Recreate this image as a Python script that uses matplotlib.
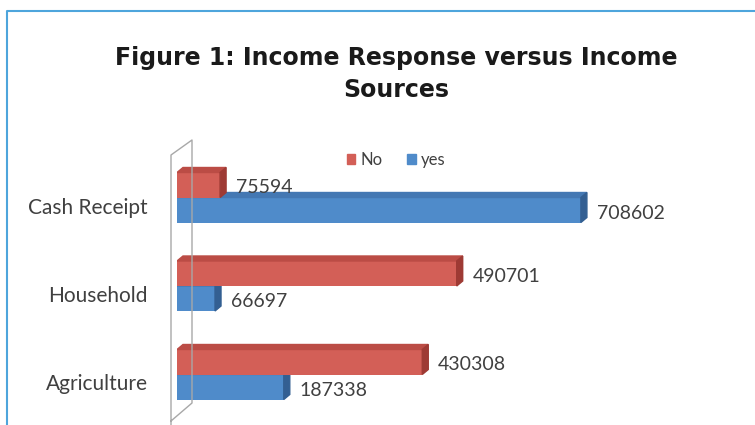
import matplotlib
matplotlib.use('Agg')
import matplotlib.pyplot as plt
from matplotlib.patches import Polygon, Patch
from matplotlib.lines import Line2D
import numpy as np

# Income response counts per source
sources = ['Agriculture', 'Household', 'Cash Receipt']
no_counts = [430308, 490701, 75594]
yes_counts = [187338, 66697, 708602]

red = '#d35f57'
blue = '#4f8bca'
red_top, red_side = '#bb4c45', '#9e3a34'
blue_top, blue_side = '#4478b3', '#335f92'

W, H = 755, 425
fig = plt.figure(figsize=(W/100, H/100), dpi=100)

# axes placed in pixel terms: value 0 at x=177, category spacing 88.5 px
ax_left, ax_right = 177, 747
ax_top, ax_bot = 140, 425
ax = fig.add_axes([ax_left/W, 1-ax_bot/H, (ax_right-ax_left)/W, (ax_bot-ax_top)/H])
xmax = 1000000
ax.set_xlim(0, xmax)
ax.set_ylim((374.5-ax_bot)/88.5, (374.5-ax_top)/88.5)
ax.axis('off')

px_x = xmax/(ax_right-ax_left)   # data units per pixel
px_y = 1/88.5
dx, dy = 6*px_x, 5*px_y

y = np.arange(len(sources))
h = 0.2825

def bar3d(vals, ys, face, top, side):
    ax.barh(ys, vals, height=h, color=face, zorder=2)
    for v, yc in zip(vals, ys):
        y0, y1 = yc-h/2, yc+h/2
        ax.add_patch(Polygon([(0, y1), (dx, y1+dy), (v+dx, y1+dy), (v, y1)],
                             closed=True, color=top, zorder=2))
        ax.add_patch(Polygon([(v, y0), (v+dx, y0+dy), (v+dx, y1+dy), (v, y1)],
                             closed=True, color=side, zorder=2))
        ax.annotate(str(v), (v, yc), xytext=(16, -3), textcoords='offset pixels',
                    ha='left', va='center', fontsize=14, family='Lato',
                    color='#404040', zorder=3)

bar3d(yes_counts, y-h/2, blue, blue_top, blue_side)
bar3d(no_counts, y+h/2, red, red_top, red_side)

# category labels
for name, yc in zip(sources, y):
    ax.annotate(name, (0, yc), xytext=(-29, -10), textcoords='offset pixels',
                ha='right', va='center', fontsize=15, family='Lato', color='#404040')

# back wall outline
def fpx(pts):
    return [p[0]/W for p in pts], [1-p[1]/H for p in pts]
wx, wy = fpx([(171, 425), (171, 155), (192, 140), (192, 403), (171, 421)])
fig.add_artist(Line2D(wx, wy, color='#a8a8a8', lw=1))

# outer frame
bx, by = fpx([(7, 425), (7, 11), (755, 11)])
fig.add_artist(Line2D(bx, by, color='#4ea5dc', lw=1.5))

fig.text(396/W, 1-74/H, 'Figure 1: Income Response versus Income\nSources',
         ha='center', va='center', fontsize=17, fontweight='bold',
         color='#1a1a1a', linespacing=1.45)

handles = [Patch(color=red, label='No'), Patch(color=blue, label='yes')]
fig.legend(handles=handles, loc='center', bbox_to_anchor=(396/W, 1-160/H),
           ncol=2, frameon=False, handlelength=0.5, handleheight=0.5,
           handletextpad=0.3, columnspacing=1.5, prop={'family': 'Lato', 'size': 12},
           labelcolor='#404040')

fig.savefig('out.png', dpi=100)
